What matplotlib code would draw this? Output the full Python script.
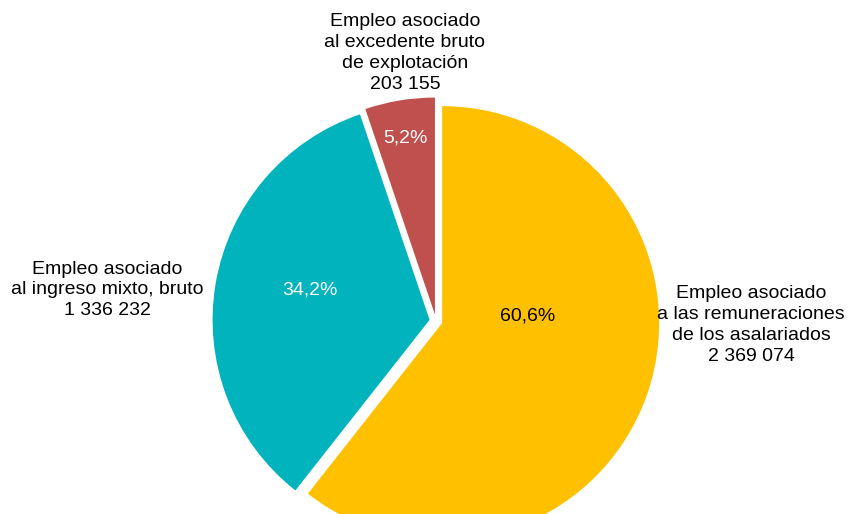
import matplotlib
matplotlib.use("Agg")
from matplotlib import pyplot as plt

# Data
labels = [
    "Empleo asociado\na las remuneraciones\nde los asalariados\n2 369 074",
    "Empleo asociado\nal ingreso mixto, bruto\n1 336 232",
    "Empleo asociado\nal excedente bruto\nde explotación\n203 155",
]
values = [2369074, 1336232, 203155]
pct_labels = ["60,6%", "34,2%", "5,2%"]
colors = ["#FFC000", "#00B3BD", "#C0504D"]
pct_colors = ["black", "white", "white"]

plt.rcParams['font.family'] = ['Liberation Sans', 'DejaVu Sans']

W, H = 850, 514
fig = plt.figure(figsize=(W / 100, H / 100), dpi=100)
ax = fig.add_axes([0, 0, 1, 1])

# pie centre in pixel coords (y measured from the bottom)
cx, cy, r = 436, H - 321, 217

# explode is in data units (pixels here)
ax.pie(
    values,
    colors=colors,
    startangle=90,
    counterclock=False,
    radius=r,
    center=(cx, cy),
    explode=[6.5, 6.5, 6.5],
    wedgeprops=dict(linewidth=0),
    frame=True,
)
ax.set_xlim(0, W)
ax.set_ylim(0, H)
ax.set_aspect('equal')
ax.axis('off')

# percentage labels inside the slices
pct_pos = [(528, 316), (310, 290), (405, 138)]
for (x, y), txt, c in zip(pct_pos, pct_labels, pct_colors):
    ax.text(x, H - y, txt, color=c, fontsize=14, ha='center', va='center')

# category labels outside
lab_pos = [(751, 325), (107, 290), (405, 53)]
for (x, y), txt in zip(lab_pos, labels):
    ax.text(x, H - y, txt, color='black', fontsize=14, ha='center', va='center',
            linespacing=1.3)

fig.savefig("out.png", dpi=100)
